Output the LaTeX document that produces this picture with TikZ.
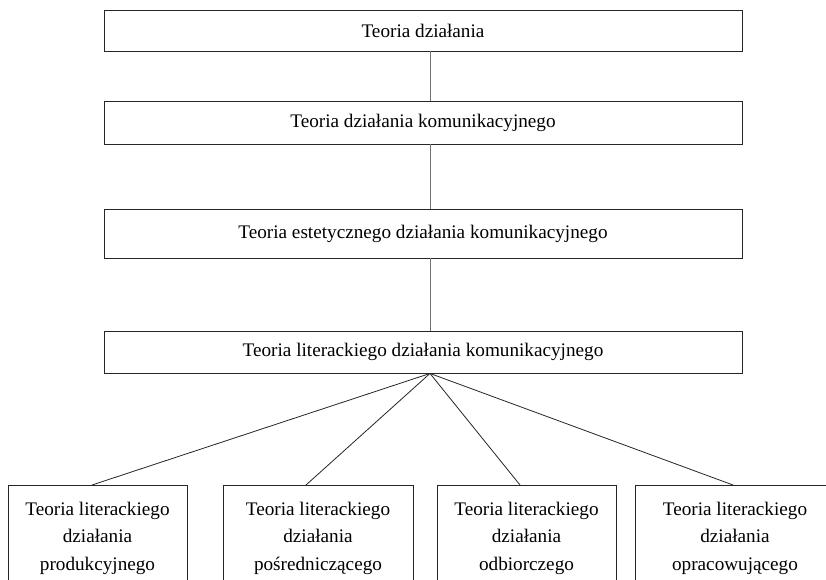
\documentclass[tikz,border=0pt]{standalone}
\usepackage{fontspec}
\setmainfont{Liberation Serif}
\begin{document}
\begin{tikzpicture}[x=1pt,y=-1pt,
  box/.style={draw=black!85, line width=0.9pt, inner sep=0pt, font=\fontsize{19.2}{27.5}\selectfont},
  wide/.style={box, minimum width=638pt},
  small/.style={box, align=center, anchor=north, minimum height=105pt},
  link/.style={draw=black!55, line width=1pt},
  fan/.style={draw=black!85, line width=0.8pt}]
\clip (0,0) rectangle (826,580);
\fill[white] (0,0) rectangle (826,580);
\node[wide, minimum height=41pt] (t1) at (423,30.5) {Teoria działania};
\node[wide, minimum height=43pt] (t2) at (423,122.5) {Teoria działania komunikacyjnego};
\node[wide, minimum height=49pt] (t3) at (423,233.5) {Teoria estetycznego działania komunikacyjnego};
\node[wide, minimum height=42pt] (t4) at (423,352) {Teoria literackiego działania komunikacyjnego};
\node[small, minimum width=179pt] (b1) at (97.5,485) {Teoria literackiego\\działania\\produkcyjnego};
\node[small, minimum width=190pt] (b2) at (318,485) {Teoria literackiego\\działania\\pośredniczącego};
\node[small, minimum width=179pt] (b3) at (526.5,485) {Teoria literackiego\\działania\\odbiorczego};
\node[small, minimum width=200pt] (b4) at (735,485) {Teoria literackiego\\działania\\opracowującego};
\draw[link] ([xshift=7pt]t1.south) -- ([xshift=7pt]t2.north);
\draw[link] ([xshift=7pt]t2.south) -- ([xshift=7pt]t3.north);
\draw[link] ([xshift=7pt]t3.south) -- ([xshift=7pt]t4.north);
\draw[fan] ([xshift=7pt]t4.south) -- ([xshift=-5.5pt]b1.north);
\draw[fan] ([xshift=7pt]t4.south) -- ([xshift=-12pt]b2.north);
\draw[fan] ([xshift=7pt]t4.south) -- ([xshift=-6.5pt]b3.north);
\draw[fan] ([xshift=7pt]t4.south) -- ([xshift=-2pt]b4.north);
\end{tikzpicture}
\end{document}
